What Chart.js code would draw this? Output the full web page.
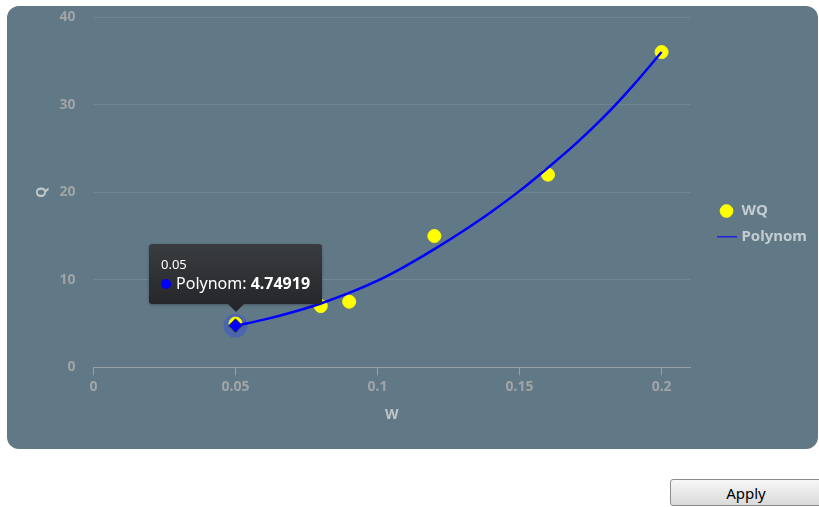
<!DOCTYPE html>
<html>
<head>
<meta charset="utf-8">
<script src="https://cdn.jsdelivr.net/npm/chart.js@4/dist/chart.umd.min.js"></script>
<style>
    body { margin: 0; background: #ffffff; font-family: "Noto Sans", sans-serif; }
    #panel {
        position: absolute; left: 7px; top: 6px; width: 811px; height: 443px;
        background: #617987; border-radius: 12px; overflow: hidden;
    }
    #chart { display: block; }
    #tip {
        position: absolute; pointer-events: none; color: #fff; white-space: nowrap;
        background: linear-gradient(#3a3d40, #25272a); border-radius: 3px;
        padding: 10px 12px 12px 12px; box-shadow: 0 1px 3px rgba(0,0,0,0.3);
        font-family: "Noto Sans", sans-serif;
    }
    #tip .ttl { font-size: 13px; line-height: 20px; }
    #tip .row { font-size: 16px; line-height: 18px; }
    #tip .dot { display: inline-block; width: 10px; height: 10px; border-radius: 50%; background: #0000ff; margin-right: 5px; vertical-align: 0px; }
    #tip b { font-weight: bold; }
    #tip .caret {
        position: absolute; left: 50%; bottom: -8px; margin-left: -8px;
        border-left: 8px solid transparent; border-right: 8px solid transparent; border-top: 8px solid #25272a;
    }
    #apply {
        position: absolute; left: 670px; top: 479px; width: 152px; height: 27px;
        border: 1px solid #8c8c8c; border-radius: 3px;
        background: linear-gradient(#f7f7f7, #dadada);
        font-family: "Noto Sans", sans-serif; font-size: 15px; color: #000; padding: 0;
    }
</style>
</head>
<body>
<div id="panel"><canvas id="chart" width="811" height="443"></canvas></div>
<div id="tip"></div>
<button id="apply">Apply</button>
<script>
// 测量点 WQ
const wqW = [0.05, 0.08, 0.09, 0.12, 0.16, 0.2];
const wqQ = [5.0, 7.0, 7.5, 15.0, 22.0, 36.0];
// 拟合曲线 Polynom
const polyW = [0.05, 0.06, 0.07, 0.08, 0.09, 0.10, 0.11, 0.12, 0.13, 0.14, 0.15, 0.16, 0.17, 0.18, 0.19, 0.20];
const polyQ = [4.74919, 5.45, 6.3, 7.3, 8.5, 9.9, 11.6, 13.5, 15.55, 17.75, 20.15, 22.8, 25.6, 28.7, 32.2, 36.0];
// 坐标轴刻度
const xTicks = [0, 0.05, 0.1, 0.15, 0.2];
const yTicks = [0, 10, 20, 30, 40];

const tickColor = '#a0a4a6';
const titleColor = '#bfc6ca';
const tickFont = { family: 'Noto Sans', size: 14, weight: 'bold' };

// 图例里的折线小图标
const lineIcon = document.createElement('canvas');
lineIcon.width = 20; lineIcon.height = 3;
(function() {
    const c = lineIcon.getContext('2d');
    c.fillStyle = '#2323e0';
    c.fillRect(0, 0, 20, 2);
})();

// 高亮点的光晕
const haloPlugin = {
    id: 'halo',
    beforeDatasetsDraw(chart) {
        const ctx = chart.ctx;
        chart.getActiveElements().forEach(a => {
            ctx.save();
            ctx.beginPath();
            ctx.arc(a.element.x, a.element.y, 12, 0, Math.PI * 2);
            ctx.fillStyle = 'rgba(50, 80, 220, 0.45)';
            ctx.fill();
            ctx.restore();
        });
    }
};

function externalTooltip(context) {
    const tip = document.getElementById('tip');
    const tooltip = context.tooltip;
    if (tooltip.opacity === 0) {
        tip.style.display = 'none';
        return;
    }
    const dp = tooltip.dataPoints[0];
    tip.innerHTML = '<div class="ttl">' + dp.parsed.x + '</div>' +
        '<div class="row"><span class="dot"></span>' + dp.dataset.label + ': <b>' + dp.parsed.y + '</b></div>' +
        '<div class="caret"></div>';
    tip.style.display = 'block';
    const panel = document.getElementById('panel');
    const left = panel.offsetLeft + tooltip.caretX - tip.offsetWidth / 2;
    const top = panel.offsetTop + tooltip.caretY - 22 - tip.offsetHeight;
    tip.style.left = left + 'px';
    tip.style.top = top + 'px';
}

const chart = new Chart(document.getElementById('chart'), {
    type: 'scatter',
    data: {
        datasets: [{
            label: 'WQ',
            data: wqW.map((w, i) => ({ x: w, y: wqQ[i] })),
            backgroundColor: '#ffff00',
            borderColor: '#ffff00',
            pointRadius: 6.5,
            pointHoverRadius: 6.5,
            pointStyle: 'circle',
            order: 1
        }, {
            label: 'Polynom',
            type: 'line',
            data: polyW.map((w, i) => ({ x: w, y: polyQ[i] })),
            borderColor: '#0000ff',
            backgroundColor: '#0000ff',
            borderWidth: 2.5,
            tension: 0.4,
            cubicInterpolationMode: 'monotone',
            fill: false,
            pointRadius: 0,
            pointStyle: 'rectRot',
            pointHoverRadius: 7,
            pointHoverBackgroundColor: '#0000ff',
            pointHoverBorderColor: '#3a3a3a',
            pointHoverBorderWidth: 1,
            order: 0
        }]
    },
    options: {
        responsive: false,
        animation: false,
        events: [],
        layout: { padding: { top: 0, left: 24.5, right: 1, bottom: 7 } },
        plugins: {
            legend: {
                position: 'right',
                labels: {
                    usePointStyle: true,
                    boxHeight: 9,
                    padding: 11,
                    color: '#c5ccd0',
                    font: { family: 'Noto Sans', size: 15, weight: 'bold' },
                    sort: (a, b) => a.datasetIndex - b.datasetIndex,
                    generateLabels: function(chart) {
                        const items = Chart.defaults.plugins.legend.labels.generateLabels(chart);
                        items.forEach(it => {
                            if (it.datasetIndex === 1) it.pointStyle = lineIcon;
                        });
                        return items;
                    }
                }
            },
            tooltip: {
                enabled: false,
                external: externalTooltip
            }
        },
        scales: {
            x: {
                type: 'linear',
                min: 0,
                max: 0.21,
                afterBuildTicks: function(scale) {
                    scale.ticks = xTicks.map(v => ({ value: v }));
                },
                ticks: {
                    color: tickColor,
                    padding: 3,
                    font: tickFont,
                    callback: v => String(v)
                },
                grid: { drawOnChartArea: false, drawTicks: true, tickLength: 8, color: '#9aa0a3' },
                border: { color: '#9aa0a3', width: 1 },
                title: {
                    display: true,
                    text: 'W',
                    color: titleColor,
                    padding: { top: 8.5, bottom: 18.5 },
                    font: { family: 'Noto Sans', size: 14, weight: 'bold' }
                }
            },
            y: {
                min: 0,
                max: 40,
                afterBuildTicks: function(scale) {
                    scale.ticks = yTicks.map(v => ({ value: v }));
                },
                afterFit: function(scale) {
                    scale.width = 62;
                    scale.paddingTop = 11;
                    scale.paddingBottom = 8;
                },
                ticks: {
                    color: tickColor,
                    padding: 18,
                    font: tickFont
                },
                grid: { color: '#6f8794', drawTicks: false },
                border: { display: false },
                title: {
                    display: true,
                    text: 'Q',
                    color: titleColor,
                    padding: { top: 2, bottom: 0 },
                    font: { family: 'Noto Sans', size: 14, weight: 'bold' }
                }
            },
            // 图表与图例之间的空隙
            gap: {
                type: 'linear',
                position: 'right',
                display: true,
                grid: { display: false },
                border: { display: false },
                ticks: { display: false },
                afterFit: function(scale) { scale.width = 18; }
            }
        }
    },
    plugins: [haloPlugin]
});

const active = [{ datasetIndex: 1, index: 0 }];
chart.setActiveElements(active);
chart.tooltip.setActiveElements(active, { x: 0, y: 0 });
chart.update();
</script>
</body>
</html>
